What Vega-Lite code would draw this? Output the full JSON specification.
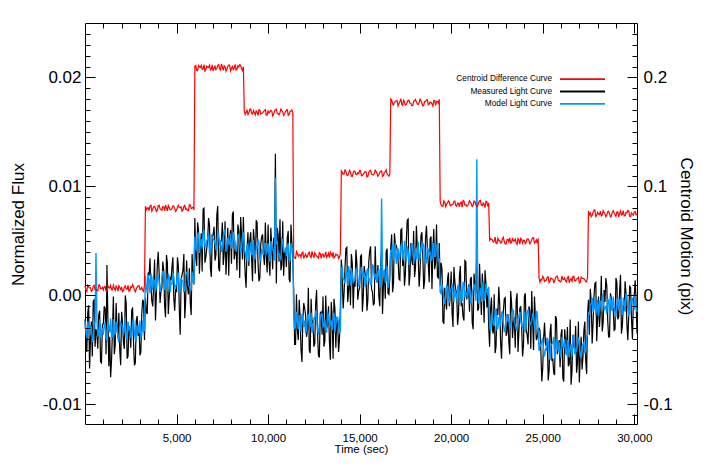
{
"$schema": "https://vega.github.io/schema/vega-lite/v6.json",
"width": 552, "height": 401,
"autosize": {"type": "none"},
"padding": {"left": 85, "top": 23, "right": 71, "bottom": 48},
"background": "white",
"data": {"values": [
{"t":0,"m":-0.0022,"b":-0.0023,"c":0.0087},
{"t":100,"m":-0.0052,"b":-0.0039,"c":0.0036},
{"t":200,"m":-0.0009,"b":-0.003,"c":0.0078},
{"t":300,"m":-0.0041,"b":-0.0027,"c":0.0069},
{"t":400,"m":-0.0056,"b":-0.0042,"c":0.0047},
{"t":500,"m":-0.0004,"b":-0.0024,"c":0.0092},
{"t":600,"m":-0.0031,"b":0.0039,"c":0.0057},
{"t":700,"m":-0.0049,"b":-0.0037,"c":0.0042},
{"t":800,"m":-0.0014,"b":-0.0022,"c":0.0096},
{"t":900,"m":-0.0062,"b":-0.0032,"c":0.0063},
{"t":1000,"m":-0.0026,"b":-0.0036,"c":0.005},
{"t":1100,"m":-0.0012,"b":-0.0025,"c":0.0082},
{"t":1200,"m":0.0028,"b":-0.0041,"c":0.0034},
{"t":1300,"m":-0.0065,"b":-0.0029,"c":0.0073},
{"t":1400,"m":-0.0075,"b":-0.0021,"c":0.0091},
{"t":1500,"m":-0.0032,"b":-0.0038,"c":0.0053},
{"t":1600,"m":-0.0054,"b":-0.0033,"c":0.0068},
{"t":1700,"m":-0.0007,"b":-0.0024,"c":0.0085},
{"t":1800,"m":-0.0039,"b":-0.0039,"c":0.004},
{"t":1900,"m":-0.0051,"b":-0.003,"c":0.0076},
{"t":2000,"m":-0.0015,"b":-0.0027,"c":0.0071},
{"t":2100,"m":-0.0043,"b":-0.0035,"c":0.0044},
{"t":2200,"m":0,"b":-0.002,"c":0.0089},
{"t":2300,"m":-0.0058,"b":-0.004,"c":0.0056},
{"t":2400,"m":-0.0028,"b":-0.0031,"c":0.0038},
{"t":2500,"m":-0.0048,"b":-0.0038,"c":0.0079},
{"t":2600,"m":-0.0011,"b":-0.0025,"c":0.0099},
{"t":2700,"m":-0.0064,"b":-0.0034,"c":0.0048},
{"t":2800,"m":-0.0023,"b":-0.0042,"c":0.0061},
{"t":2900,"m":-0.0037,"b":-0.0028,"c":0.0088},
{"t":3000,"m":-0.0055,"b":-0.0023,"c":0.0054},
{"t":3100,"m":-0.0017,"b":-0.0037,"c":0.0074},
{"t":3200,"m":-0.0006,"b":-0.0033,"c":0.0037},
{"t":3300,"m":-0.0002,"b":0.0018,"c":0.0819},
{"t":3400,"m":-0.0017,"b":0.0002,"c":0.0801},
{"t":3500,"m":0.0018,"b":0.0015,"c":0.0778},
{"t":3600,"m":0.001,"b":0.002,"c":0.0828},
{"t":3700,"m":-0.001,"b":0.0005,"c":0.0793},
{"t":3800,"m":0.0033,"b":0.0013,"c":0.0816},
{"t":3900,"m":0.0001,"b":0.0008,"c":0.077},
{"t":4000,"m":0.004,"b":0.0018,"c":0.0825},
{"t":4100,"m":-0.0007,"b":0.0003,"c":0.0794},
{"t":4200,"m":0.0007,"b":0.0016,"c":0.0781},
{"t":4300,"m":0.0023,"b":0.0022,"c":0.0812},
{"t":4400,"m":-0.002,"b":0.0009,"c":0.083},
{"t":4500,"m":0.003,"b":0.0004,"c":0.0776},
{"t":4600,"m":-0.0001,"b":0.0017,"c":0.0807},
{"t":4700,"m":0.0014,"b":0.0012,"c":0.0787},
{"t":4800,"m":0.0035,"b":0.0021,"c":0.0821},
{"t":4900,"m":-0.0014,"b":0.0006,"c":0.0799},
{"t":5000,"m":0.0003,"b":0.001,"c":0.0784},
{"t":5100,"m":0.0027,"b":0.002,"c":0.0826},
{"t":5200,"m":-0.0036,"b":0.0007,"c":0.0804},
{"t":5300,"m":0.0019,"b":0.0014,"c":0.0773},
{"t":5400,"m":0.0038,"b":0.0003,"c":0.0817},
{"t":5500,"m":-0.0004,"b":0.0018,"c":0.0791},
{"t":5600,"m":0.0008,"b":0.0022,"c":0.078},
{"t":5700,"m":0.0025,"b":0.0008,"c":0.0832},
{"t":5800,"m":-0.0018,"b":0.0005,"c":0.0797},
{"t":5900,"m":0.0016,"b":0.0013,"c":0.081},
{"t":6000,"m":0.0071,"b":0.0054,"c":0.2105},
{"t":6100,"m":0.0027,"b":0.0041,"c":0.2065},
{"t":6200,"m":0.006,"b":0.0058,"c":0.211},
{"t":6300,"m":0.0043,"b":0.0047,"c":0.2092},
{"t":6400,"m":0.0022,"b":0.0043,"c":0.2076},
{"t":6500,"m":0.008,"b":0.0059,"c":0.2119},
{"t":6600,"m":0.0035,"b":0.0045,"c":0.2072},
{"t":6700,"m":0.0051,"b":0.0052,"c":0.2095},
{"t":6800,"m":0.0065,"b":0.0038,"c":0.2113},
{"t":6900,"m":0.0017,"b":0.0056,"c":0.2079},
{"t":7000,"m":0.0056,"b":0.0052,"c":0.2061},
{"t":7100,"m":0.0032,"b":0.0048,"c":0.2103},
{"t":7200,"m":0.0074,"b":0.0042,"c":0.2085},
{"t":7300,"m":0.0025,"b":0.0057,"c":0.2117},
{"t":7400,"m":0.0049,"b":0.0051,"c":0.2069},
{"t":7500,"m":0.0067,"b":0.0044,"c":0.2098},
{"t":7600,"m":0.0038,"b":0.006,"c":0.2108},
{"t":7700,"m":0.0019,"b":0.004,"c":0.2058},
{"t":7800,"m":0.0062,"b":0.0053,"c":0.2101},
{"t":7900,"m":0.0053,"b":0.0046,"c":0.2114},
{"t":8000,"m":0.0029,"b":0.0043,"c":0.2082},
{"t":8100,"m":0.0077,"b":0.0058,"c":0.2073},
{"t":8200,"m":0.004,"b":0.0049,"c":0.212},
{"t":8300,"m":0.0023,"b":0.0044,"c":0.2077},
{"t":8400,"m":0.0059,"b":0.0056,"c":0.2096},
{"t":8500,"m":0.0072,"b":0.0039,"c":0.2111},
{"t":8600,"m":0.0033,"b":0.0054,"c":0.2064},
{"t":8700,"m":0.0039,"b":0.0043,"c":0.1694},
{"t":8800,"m":0.0007,"b":0.0033,"c":0.1678},
{"t":8900,"m":0.0058,"b":0.0047,"c":0.166},
{"t":9000,"m":0.005,"b":0.0042,"c":0.1708},
{"t":9100,"m":0.0034,"b":0.0037,"c":0.167},
{"t":9200,"m":0.0061,"b":0.0051,"c":0.1696},
{"t":9300,"m":0.002,"b":0.0034,"c":0.1657},
{"t":9400,"m":0.0067,"b":0.0044,"c":0.1683},
{"t":9500,"m":0.0013,"b":0.0049,"c":0.1705},
{"t":9600,"m":0.0047,"b":0.0032,"c":0.1665},
{"t":9700,"m":0.0056,"b":0.0039,"c":0.1675},
{"t":9800,"m":0.0028,"b":0.0046,"c":0.1699},
{"t":9900,"m":0.0036,"b":0.0038,"c":0.1652},
{"t":10000,"m":0.0065,"b":0.0048,"c":0.1692},
{"t":10100,"m":0.0018,"b":0.0031,"c":0.1687},
{"t":10200,"m":0.0044,"b":0.0045,"c":0.1692},
{"t":10300,"m":0.0053,"b":0.0042,"c":0.1662},
{"t":10400,"m":0.013,"b":0.0108,"c":0.1705},
{"t":10500,"m":0.0062,"b":0.005,"c":0.1673},
{"t":10600,"m":0.0031,"b":0.0038,"c":0.1658},
{"t":10700,"m":0.0023,"b":0.0033,"c":0.171},
{"t":10800,"m":0.0068,"b":0.0051,"c":0.1683},
{"t":10900,"m":0.004,"b":0.004,"c":0.1665},
{"t":11000,"m":0.0026,"b":0.0036,"c":0.17},
{"t":11100,"m":0.0059,"b":0.0047,"c":0.1652},
{"t":11200,"m":0.0012,"b":0.0031,"c":0.1688},
{"t":11300,"m":0.0049,"b":0.0044,"c":0.1702},
{"t":11400,"m":0.0004,"b":-0.0016,"c":0.0358},
{"t":11500,"m":-0.0045,"b":-0.0029,"c":0.0339},
{"t":11600,"m":-0.0032,"b":-0.0024,"c":0.0385},
{"t":11700,"m":-0.0004,"b":-0.0018,"c":0.0372},
{"t":11800,"m":-0.005,"b":-0.0033,"c":0.035},
{"t":11900,"m":-0.0021,"b":-0.0021,"c":0.0397},
{"t":12000,"m":-0.0012,"b":-0.0023,"c":0.0365},
{"t":12100,"m":-0.0038,"b":-0.0032,"c":0.0353},
{"t":12200,"m":0.0007,"b":-0.0017,"c":0.0389},
{"t":12300,"m":-0.0053,"b":-0.0028,"c":0.0361},
{"t":12400,"m":-0.0025,"b":-0.0034,"c":0.0404},
{"t":12500,"m":-0.0047,"b":-0.002,"c":0.0346},
{"t":12600,"m":-0.0007,"b":-0.0014,"c":0.0376},
{"t":12700,"m":-0.0034,"b":-0.0031,"c":0.0356},
{"t":12800,"m":-0.0057,"b":-0.0026,"c":0.0393},
{"t":12900,"m":-0.0015,"b":-0.0017,"c":0.034},
{"t":13000,"m":-0.0001,"b":-0.0029,"c":0.0381},
{"t":13100,"m":-0.0042,"b":-0.0022,"c":0.0367},
{"t":13200,"m":-0.003,"b":-0.0034,"c":0.0349},
{"t":13300,"m":-0.001,"b":-0.0019,"c":0.0387},
{"t":13400,"m":-0.0059,"b":-0.0025,"c":0.0398},
{"t":13500,"m":-0.0019,"b":-0.0032,"c":0.0359},
{"t":13600,"m":-0.0003,"b":-0.0016,"c":0.0344},
{"t":13700,"m":-0.0048,"b":-0.0027,"c":0.0379},
{"t":13800,"m":-0.0024,"b":-0.002,"c":0.0371},
{"t":13900,"m":-0.004,"b":-0.0035,"c":0.0351},
{"t":14000,"m":0.0033,"b":0.0025,"c":0.1144},
{"t":14100,"m":-0.0012,"b":0.0015,"c":0.1112},
{"t":14200,"m":0.0025,"b":0.0011,"c":0.1151},
{"t":14300,"m":0.0044,"b":0.0021,"c":0.1104},
{"t":14400,"m":0.0005,"b":0.0027,"c":0.1118},
{"t":14500,"m":-0.0009,"b":0.0009,"c":0.1134},
{"t":14600,"m":0.0029,"b":0.0019,"c":0.1091},
{"t":14700,"m":0.0013,"b":0.0013,"c":0.1141},
{"t":14800,"m":0.0042,"b":0.0024,"c":0.111},
{"t":14900,"m":-0.0004,"b":0.0017,"c":0.1125},
{"t":15000,"m":0.0007,"b":0.0012,"c":0.1146},
{"t":15100,"m":0.0037,"b":0.0026,"c":0.1097},
{"t":15200,"m":-0.0001,"b":0.0018,"c":0.1114},
{"t":15300,"m":0.002,"b":0.0008,"c":0.1138},
{"t":15400,"m":-0.0014,"b":0.0023,"c":0.1087},
{"t":15500,"m":0.0031,"b":0.0014,"c":0.113},
{"t":15600,"m":0.0045,"b":0.001,"c":0.1149},
{"t":15700,"m":0.0003,"b":0.0028,"c":0.1107},
{"t":15800,"m":-0.0007,"b":0.0016,"c":0.1119},
{"t":15900,"m":0.0016,"b":0.002,"c":0.1136},
{"t":16000,"m":0.0028,"b":0.0022,"c":0.1093},
{"t":16100,"m":-0.001,"b":0.0009,"c":0.1127},
{"t":16200,"m":0.004,"b":0.0089,"c":0.1144},
{"t":16300,"m":0.0009,"b":0.0018,"c":0.11},
{"t":16400,"m":-0.0003,"b":0.0012,"c":0.1133},
{"t":16500,"m":0.0043,"b":0.0027,"c":0.1116},
{"t":16600,"m":0.0001,"b":0.0011,"c":0.1095},
{"t":16700,"m":0.0044,"b":0.0041,"c":0.1803},
{"t":16800,"m":0.0003,"b":0.0047,"c":0.1758},
{"t":16900,"m":0.0057,"b":0.0035,"c":0.1774},
{"t":17000,"m":0.0046,"b":0.0029,"c":0.1788},
{"t":17100,"m":0.0033,"b":0.0043,"c":0.174},
{"t":17200,"m":0.0014,"b":0.0037,"c":0.1779},
{"t":17300,"m":0.0061,"b":0.0048,"c":0.1755},
{"t":17400,"m":0.0041,"b":0.0032,"c":0.1797},
{"t":17500,"m":0.002,"b":0.0042,"c":0.1748},
{"t":17600,"m":0.0069,"b":0.0045,"c":0.1772},
{"t":17700,"m":0.0009,"b":0.0028,"c":0.179},
{"t":17800,"m":0.0048,"b":0.0043,"c":0.1761},
{"t":17900,"m":0.0028,"b":0.0047,"c":0.1742},
{"t":18000,"m":0.0017,"b":0.0036,"c":0.1785},
{"t":18100,"m":0.0064,"b":0.0033,"c":0.1776},
{"t":18200,"m":0.0036,"b":0.0049,"c":0.1752},
{"t":18300,"m":0.0022,"b":0.0035,"c":0.18},
{"t":18400,"m":0.0058,"b":0.0041,"c":0.1763},
{"t":18500,"m":0.0006,"b":0.0046,"c":0.1746},
{"t":18600,"m":0.0052,"b":0.003,"c":0.1782},
{"t":18700,"m":0.0043,"b":0.0044,"c":0.1795},
{"t":18800,"m":0.0012,"b":0.0038,"c":0.1756},
{"t":18900,"m":0.0054,"b":0.0032,"c":0.177},
{"t":19000,"m":0.0039,"b":0.0048,"c":0.1738},
{"t":19100,"m":0.0024,"b":0.0036,"c":0.1789},
{"t":19200,"m":0.0065,"b":0.0044,"c":0.1781},
{"t":19300,"m":0.0016,"b":0.0031,"c":0.1765},
{"t":19400,"m":0.0009,"b":0.0003,"c":0.0862},
{"t":19500,"m":0.0024,"b":0.001,"c":0.0821},
{"t":19600,"m":-0.0026,"b":-0.0003,"c":0.0868},
{"t":19700,"m":-0.0006,"b":0,"c":0.0814},
{"t":19800,"m":0.0015,"b":0.0008,"c":0.0848},
{"t":19900,"m":-0.001,"b":-0.0007,"c":0.0857},
{"t":20000,"m":0.0022,"b":0.0006,"c":0.0829},
{"t":20100,"m":-0.0029,"b":0.0004,"c":0.0837},
{"t":20200,"m":0.0013,"b":0.0006,"c":0.0866},
{"t":20300,"m":0.0004,"b":-0.0004,"c":0.0819},
{"t":20400,"m":-0.0018,"b":0.001,"c":0.0845},
{"t":20500,"m":0.0027,"b":0,"c":0.0854},
{"t":20600,"m":-0.0008,"b":-0.0005,"c":0.081},
{"t":20700,"m":-0.0023,"b":0.0012,"c":0.0863},
{"t":20800,"m":0.0031,"b":0.0003,"c":0.0832},
{"t":20900,"m":-0.0002,"b":-0.0003,"c":0.0824},
{"t":21000,"m":-0.0015,"b":0.0009,"c":0.0869},
{"t":21100,"m":0.0017,"b":-0.0007,"c":0.0841},
{"t":21200,"m":-0.0031,"b":0.0005,"c":0.0827},
{"t":21300,"m":0.0008,"b":0.0009,"c":0.086},
{"t":21400,"m":0.0044,"b":0.0125,"c":0.0813},
{"t":21500,"m":-0.0012,"b":-0.0008,"c":0.085},
{"t":21600,"m":0.0003,"b":0.0007,"c":0.0872},
{"t":21700,"m":0.002,"b":0.0003,"c":0.0823},
{"t":21800,"m":-0.0025,"b":-0.0005,"c":0.0836},
{"t":21900,"m":0.0011,"b":0.0011,"c":0.0864},
{"t":22000,"m":0.0006,"b":0,"c":0.0818},
{"t":22100,"m":-0.0047,"b":-0.0029,"c":0.0507},
{"t":22200,"m":-0.0002,"b":-0.0017,"c":0.0516},
{"t":22300,"m":-0.0035,"b":-0.0026,"c":0.049},
{"t":22400,"m":-0.0053,"b":-0.0012,"c":0.0535},
{"t":22500,"m":-0.0012,"b":-0.0031,"c":0.0475},
{"t":22600,"m":0.0008,"b":-0.0021,"c":0.0503},
{"t":22700,"m":-0.0043,"b":-0.0028,"c":0.0481},
{"t":22800,"m":-0.003,"b":-0.0015,"c":0.0521},
{"t":22900,"m":-0.0003,"b":-0.0033,"c":0.0494},
{"t":23000,"m":-0.0037,"b":-0.0019,"c":0.0471},
{"t":23100,"m":-0.0017,"b":-0.0024,"c":0.0513},
{"t":23200,"m":-0.0054,"b":-0.003,"c":0.0527},
{"t":23300,"m":-0.0007,"b":-0.0017,"c":0.0486},
{"t":23400,"m":-0.0025,"b":-0.0014,"c":0.0498},
{"t":23500,"m":-0.0048,"b":-0.0027,"c":0.0518},
{"t":23600,"m":0.0002,"b":-0.0032,"c":0.0469},
{"t":23700,"m":-0.0033,"b":-0.002,"c":0.0509},
{"t":23800,"m":-0.001,"b":-0.0023,"c":0.0525},
{"t":23900,"m":-0.0056,"b":-0.0029,"c":0.048},
{"t":24000,"m":-0.0001,"b":-0.0015,"c":0.0504},
{"t":24100,"m":-0.0032,"b":-0.0026,"c":0.0488},
{"t":24200,"m":-0.0045,"b":-0.0013,"c":0.0519},
{"t":24300,"m":-0.0014,"b":-0.0028,"c":0.0474},
{"t":24400,"m":0.0004,"b":-0.0024,"c":0.0511},
{"t":24500,"m":-0.005,"b":-0.0018,"c":0.053},
{"t":24600,"m":-0.0019,"b":-0.0033,"c":0.0491},
{"t":24700,"m":-0.0039,"b":-0.0016,"c":0.0477},
{"t":24800,"m":-0.003,"b":-0.0051,"c":0.0162},
{"t":24900,"m":-0.0052,"b":-0.0046,"c":0.0146},
{"t":25000,"m":-0.0067,"b":-0.0039,"c":0.0175},
{"t":25100,"m":-0.0025,"b":-0.0056,"c":0.0129},
{"t":25200,"m":-0.0047,"b":-0.005,"c":0.014},
{"t":25300,"m":-0.0078,"b":-0.0042,"c":0.017},
{"t":25400,"m":-0.0034,"b":-0.0059,"c":0.0132},
{"t":25500,"m":-0.006,"b":-0.0045,"c":0.0153},
{"t":25600,"m":-0.0071,"b":-0.0038,"c":0.0119},
{"t":25700,"m":-0.0019,"b":-0.0052,"c":0.0164},
{"t":25800,"m":-0.0054,"b":-0.0048,"c":0.0178},
{"t":25900,"m":-0.0041,"b":-0.0043,"c":0.0136},
{"t":26000,"m":-0.0036,"b":-0.0057,"c":0.0126},
{"t":26100,"m":-0.0076,"b":-0.0046,"c":0.0149},
{"t":26200,"m":-0.0031,"b":-0.004,"c":0.0161},
{"t":26300,"m":-0.0049,"b":-0.0055,"c":0.0123},
{"t":26400,"m":-0.0065,"b":-0.0044,"c":0.0173},
{"t":26500,"m":-0.0022,"b":-0.0049,"c":0.0142},
{"t":26600,"m":-0.0069,"b":-0.0056,"c":0.013},
{"t":26700,"m":-0.0046,"b":-0.0037,"c":0.0176},
{"t":26800,"m":-0.0028,"b":-0.0052,"c":0.0134},
{"t":26900,"m":-0.0062,"b":-0.0047,"c":0.0155},
{"t":27000,"m":-0.008,"b":-0.0042,"c":0.0114},
{"t":27100,"m":-0.0038,"b":-0.0058,"c":0.0168},
{"t":27200,"m":-0.0056,"b":-0.0045,"c":0.0157},
{"t":27300,"m":-0.0024,"b":-0.0053,"c":0.0144},
{"t":27400,"m":-0.0072,"b":-0.0039,"c":0.0125},
{"t":27500,"m":-0.0004,"b":-0.0016,"c":0.0775},
{"t":27600,"m":0.0006,"b":-0.0008,"c":0.0755},
{"t":27700,"m":-0.0044,"b":-0.0002,"c":0.0734},
{"t":27800,"m":-0.0001,"b":-0.0012,"c":0.0783},
{"t":27900,"m":0.0012,"b":-0.0018,"c":0.0723},
{"t":28000,"m":-0.002,"b":-0.0004,"c":0.0762},
{"t":28100,"m":-0.0029,"b":-0.0007,"c":0.0742},
{"t":28200,"m":0.0018,"b":-0.0015,"c":0.0731},
{"t":28300,"m":-0.0025,"b":0.0001,"c":0.0778},
{"t":28400,"m":-0.0006,"b":-0.0011,"c":0.075},
{"t":28500,"m":0.0009,"b":-0.0017,"c":0.0736},
{"t":28600,"m":-0.0038,"b":-0.0005,"c":0.0772},
{"t":28700,"m":0.0002,"b":-0.0001,"c":0.072},
{"t":28800,"m":-0.0014,"b":-0.0014,"c":0.0766},
{"t":28900,"m":-0.0032,"b":-0.0009,"c":0.0757},
{"t":29000,"m":0.0016,"b":-0.002,"c":0.0726},
{"t":29100,"m":-0.0022,"b":-0.0003,"c":0.0768},
{"t":29200,"m":0.0004,"b":-0.0005,"c":0.0753},
{"t":29300,"m":-0.0035,"b":-0.0011,"c":0.0738},
{"t":29400,"m":-0.0009,"b":-0.0002,"c":0.0779},
{"t":29500,"m":0.0013,"b":-0.0015,"c":0.073},
{"t":29600,"m":-0.0027,"b":0,"c":0.0759},
{"t":29700,"m":-0.0017,"b":-0.0018,"c":0.0774},
{"t":29800,"m":0.0007,"b":-0.0006,"c":0.0724},
{"t":29900,"m":-0.004,"b":-0.0003,"c":0.0744},
{"t":30000,"m":0,"b":-0.0013,"c":0.0765},
{"t":30100,"m":-0.0005,"b":-0.001,"c":0.074},
{"t":50,"m":-0.004,"b":-0.0034,"c":0.0049},
{"t":150,"m":-0.0016,"b":-0.0024,"c":0.0091},
{"t":250,"m":-0.0067,"b":-0.0037,"c":0.0069},
{"t":350,"m":-0.0024,"b":-0.003,"c":0.0038},
{"t":450,"m":-0.0005,"b":-0.0041,"c":0.0082},
{"t":550,"m":-0.0047,"b":-0.0026,"c":0.0056},
{"t":650,"m":-0.0035,"b":-0.0022,"c":0.0045},
{"t":750,"m":-0.0018,"b":-0.0036,"c":0.0097},
{"t":850,"m":-0.0061,"b":-0.0039,"c":0.0062},
{"t":950,"m":-0.0027,"b":-0.0031,"c":0.0075},
{"t":1050,"m":-0.001,"b":-0.0027,"c":0.008},
{"t":1150,"m":-0.0054,"b":-0.004,"c":0.004},
{"t":1250,"m":-0.0021,"b":-0.0023,"c":0.0085},
{"t":1350,"m":-0.0038,"b":-0.0034,"c":0.0067},
{"t":1450,"m":-0.0059,"b":-0.0038,"c":0.0051},
{"t":1550,"m":-0.0001,"b":-0.0022,"c":0.0094},
{"t":1650,"m":-0.0046,"b":-0.0036,"c":0.0047},
{"t":1750,"m":-0.003,"b":-0.0029,"c":0.007},
{"t":1850,"m":-0.0016,"b":-0.0043,"c":0.0088},
{"t":1950,"m":-0.0064,"b":-0.0025,"c":0.0054},
{"t":2050,"m":-0.0025,"b":-0.0029,"c":0.0036},
{"t":2150,"m":-0.0049,"b":-0.0033,"c":0.0078},
{"t":2250,"m":-0.0007,"b":-0.0039,"c":0.006},
{"t":2350,"m":-0.0056,"b":-0.0024,"c":0.0092},
{"t":2450,"m":-0.0032,"b":-0.003,"c":0.0044},
{"t":2550,"m":-0.0014,"b":-0.0037,"c":0.0073},
{"t":2650,"m":-0.0043,"b":-0.0021,"c":0.0083},
{"t":2750,"m":-0.0062,"b":-0.0041,"c":0.0033},
{"t":2850,"m":-0.0019,"b":-0.0028,"c":0.0076},
{"t":2950,"m":-0.0028,"b":-0.0035,"c":0.0089},
{"t":3050,"m":-0.0052,"b":-0.0038,"c":0.0057},
{"t":3150,"m":-0.0004,"b":-0.0023,"c":0.0048},
{"t":3250,"m":-0.0041,"b":-0.0032,"c":0.0095},
{"t":3350,"m":-0.0015,"b":0.0007,"c":0.0787},
{"t":3450,"m":0.0021,"b":0.0019,"c":0.0806},
{"t":3550,"m":0.0034,"b":0.0002,"c":0.0821},
{"t":3650,"m":-0.0005,"b":0.0017,"c":0.0774},
{"t":3750,"m":0.0009,"b":0.0014,"c":0.0814},
{"t":3850,"m":-0.0023,"b":0.0004,"c":0.0798},
{"t":3950,"m":0.0028,"b":0.0018,"c":0.078},
{"t":4050,"m":0.002,"b":0.0013,"c":0.0828},
{"t":4150,"m":0.0004,"b":0.0008,"c":0.079},
{"t":4250,"m":0.0031,"b":0.0022,"c":0.0816},
{"t":4350,"m":-0.001,"b":0.0005,"c":0.0777},
{"t":4450,"m":0.0037,"b":0.0015,"c":0.0803},
{"t":4550,"m":-0.0017,"b":0.002,"c":0.0825},
{"t":4650,"m":0.0017,"b":0.0003,"c":0.0785},
{"t":4750,"m":0.0026,"b":0.001,"c":0.0795},
{"t":4850,"m":-0.0002,"b":0.0017,"c":0.0819},
{"t":4950,"m":0.0006,"b":0.0009,"c":0.0772},
{"t":5050,"m":0.0035,"b":0.0019,"c":0.0812},
{"t":5150,"m":-0.0012,"b":0.0002,"c":0.0807},
{"t":5250,"m":0.0014,"b":0.0016,"c":0.0812},
{"t":5350,"m":0.0023,"b":0.0013,"c":0.0782},
{"t":5450,"m":-0.0021,"b":0.0006,"c":0.0825},
{"t":5550,"m":0.0032,"b":0.0021,"c":0.0793},
{"t":5650,"m":0.0001,"b":0.0009,"c":0.0778},
{"t":5750,"m":-0.0007,"b":0.0004,"c":0.083},
{"t":5850,"m":0.0038,"b":0.0022,"c":0.0803},
{"t":5950,"m":0.001,"b":0.0011,"c":0.0785},
{"t":6050,"m":0.0034,"b":0.0044,"c":0.211},
{"t":6150,"m":0.0067,"b":0.0055,"c":0.2062},
{"t":6250,"m":0.002,"b":0.0039,"c":0.2098},
{"t":6350,"m":0.0057,"b":0.0052,"c":0.2112},
{"t":6450,"m":0.0079,"b":0.0058,"c":0.2078},
{"t":6550,"m":0.003,"b":0.0045,"c":0.2059},
{"t":6650,"m":0.0043,"b":0.005,"c":0.2105},
{"t":6750,"m":0.0071,"b":0.0056,"c":0.2092},
{"t":6850,"m":0.0025,"b":0.0041,"c":0.207},
{"t":6950,"m":0.0054,"b":0.0053,"c":0.2117},
{"t":7050,"m":0.0063,"b":0.0051,"c":0.2085},
{"t":7150,"m":0.0037,"b":0.0042,"c":0.2073},
{"t":7250,"m":0.0082,"b":0.0057,"c":0.2109},
{"t":7350,"m":0.0022,"b":0.0046,"c":0.2081},
{"t":7450,"m":0.005,"b":0.004,"c":0.2124},
{"t":7550,"m":0.0028,"b":0.0054,"c":0.2066},
{"t":7650,"m":0.0068,"b":0.006,"c":0.2096},
{"t":7750,"m":0.0041,"b":0.0043,"c":0.2076},
{"t":7850,"m":0.0018,"b":0.0048,"c":0.2113},
{"t":7950,"m":0.006,"b":0.0057,"c":0.206},
{"t":8050,"m":0.0074,"b":0.0045,"c":0.2101},
{"t":8150,"m":0.0033,"b":0.0052,"c":0.2087},
{"t":8250,"m":0.0045,"b":0.004,"c":0.2069},
{"t":8350,"m":0.0065,"b":0.0055,"c":0.2107},
{"t":8450,"m":0.0016,"b":0.0049,"c":0.2118},
{"t":8550,"m":0.0056,"b":0.0042,"c":0.2079},
{"t":8650,"m":0.0072,"b":0.0058,"c":0.2099},
{"t":8750,"m":0.0019,"b":0.0039,"c":0.1661},
{"t":8850,"m":0.0043,"b":0.0046,"c":0.1704},
{"t":8950,"m":0.0027,"b":0.0031,"c":0.1672},
{"t":9050,"m":0.0058,"b":0.0049,"c":0.1711},
{"t":9150,"m":0.0013,"b":0.0039,"c":0.1664},
{"t":9250,"m":0.005,"b":0.0035,"c":0.1678},
{"t":9350,"m":0.0069,"b":0.0045,"c":0.1694},
{"t":9450,"m":0.003,"b":0.0051,"c":0.1651},
{"t":9550,"m":0.0016,"b":0.0033,"c":0.1701},
{"t":9650,"m":0.0054,"b":0.0043,"c":0.167},
{"t":9750,"m":0.0038,"b":0.0037,"c":0.1685},
{"t":9850,"m":0.0067,"b":0.0048,"c":0.1706},
{"t":9950,"m":0.0021,"b":0.0041,"c":0.1657},
{"t":10050,"m":0.0032,"b":0.0036,"c":0.1674},
{"t":10150,"m":0.0062,"b":0.005,"c":0.1698},
{"t":10250,"m":0.0024,"b":0.0042,"c":0.1647},
{"t":10350,"m":0.0045,"b":0.0032,"c":0.169},
{"t":10450,"m":0.0011,"b":0.0047,"c":0.1709},
{"t":10550,"m":0.0056,"b":0.0038,"c":0.1667},
{"t":10650,"m":0.007,"b":0.0034,"c":0.1679},
{"t":10750,"m":0.0028,"b":0.0052,"c":0.1696},
{"t":10850,"m":0.0018,"b":0.004,"c":0.1653},
{"t":10950,"m":0.0041,"b":0.0044,"c":0.1687},
{"t":11050,"m":0.0053,"b":0.0046,"c":0.1704},
{"t":11150,"m":0.0015,"b":0.0033,"c":0.166},
{"t":11250,"m":0.0065,"b":0.0048,"c":0.1693},
{"t":11350,"m":0.0034,"b":0.0042,"c":0.1676},
{"t":11450,"m":-0.0045,"b":-0.003,"c":0.0345},
{"t":11550,"m":0.0001,"b":-0.0015,"c":0.0403},
{"t":11650,"m":-0.0041,"b":-0.0031,"c":0.0358},
{"t":11750,"m":-0.002,"b":-0.0023,"c":0.0374},
{"t":11850,"m":-0.0061,"b":-0.0017,"c":0.0388},
{"t":11950,"m":-0.0007,"b":-0.0029,"c":0.034},
{"t":12050,"m":-0.0018,"b":-0.0035,"c":0.0379},
{"t":12150,"m":-0.0031,"b":-0.0021,"c":0.0355},
{"t":12250,"m":-0.005,"b":-0.0027,"c":0.0397},
{"t":12350,"m":-0.0003,"b":-0.0016,"c":0.0348},
{"t":12450,"m":-0.0023,"b":-0.0032,"c":0.0372},
{"t":12550,"m":-0.0044,"b":-0.0022,"c":0.039},
{"t":12650,"m":0.0005,"b":-0.0019,"c":0.0361},
{"t":12750,"m":-0.0055,"b":-0.0036,"c":0.0342},
{"t":12850,"m":-0.0016,"b":-0.0021,"c":0.0385},
{"t":12950,"m":-0.0036,"b":-0.0017,"c":0.0376},
{"t":13050,"m":-0.0047,"b":-0.0028,"c":0.0352},
{"t":13150,"m":0,"b":-0.0031,"c":0.04},
{"t":13250,"m":-0.0028,"b":-0.0015,"c":0.0363},
{"t":13350,"m":-0.0042,"b":-0.0029,"c":0.0346},
{"t":13450,"m":-0.0006,"b":-0.0023,"c":0.0382},
{"t":13550,"m":-0.0058,"b":-0.0018,"c":0.0395},
{"t":13650,"m":-0.0012,"b":-0.0034,"c":0.0356},
{"t":13750,"m":-0.0021,"b":-0.002,"c":0.037},
{"t":13850,"m":-0.0052,"b":-0.0026,"c":0.0338},
{"t":13950,"m":-0.001,"b":-0.0032,"c":0.0389},
{"t":14050,"m":0.0017,"b":0.0026,"c":0.1131},
{"t":14150,"m":0.0002,"b":0.0014,"c":0.1115},
{"t":14250,"m":0.0043,"b":0.0022,"c":0.1142},
{"t":14350,"m":-0.0006,"b":0.0009,"c":0.1101},
{"t":14450,"m":0.0023,"b":0.0018,"c":0.1148},
{"t":14550,"m":0.0038,"b":0.0025,"c":0.1094},
{"t":14650,"m":-0.0012,"b":0.0012,"c":0.1128},
{"t":14750,"m":0.0008,"b":0.0015,"c":0.1137},
{"t":14850,"m":0.0029,"b":0.0023,"c":0.1109},
{"t":14950,"m":0.0004,"b":0.0008,"c":0.1117},
{"t":15050,"m":0.0036,"b":0.0021,"c":0.1146},
{"t":15150,"m":-0.0015,"b":0.0019,"c":0.1099},
{"t":15250,"m":0.0027,"b":0.0021,"c":0.1125},
{"t":15350,"m":0.0018,"b":0.0011,"c":0.1134},
{"t":15450,"m":-0.0004,"b":0.0025,"c":0.109},
{"t":15550,"m":0.0041,"b":0.0015,"c":0.1143},
{"t":15650,"m":0.0006,"b":0.001,"c":0.1112},
{"t":15750,"m":-0.0009,"b":0.0027,"c":0.1104},
{"t":15850,"m":0.0045,"b":0.0018,"c":0.1149},
{"t":15950,"m":0.0012,"b":0.0012,"c":0.1121},
{"t":16050,"m":-0.0001,"b":0.0024,"c":0.1107},
{"t":16150,"m":0.0031,"b":0.0008,"c":0.114},
{"t":16250,"m":-0.0017,"b":0.002,"c":0.1093},
{"t":16350,"m":0.0022,"b":0.0024,"c":0.113},
{"t":16450,"m":0.004,"b":0.0013,"c":0.1152},
{"t":16550,"m":0.0002,"b":0.0007,"c":0.1103},
{"t":16650,"m":0.0017,"b":0.0022,"c":0.1116},
{"t":16750,"m":0.0056,"b":0.004,"c":0.1794},
{"t":16850,"m":0.0011,"b":0.0032,"c":0.1748},
{"t":16950,"m":0.0047,"b":0.0048,"c":0.1777},
{"t":17050,"m":0.0042,"b":0.0037,"c":0.1786},
{"t":17150,"m":0.0015,"b":0.0033,"c":0.176},
{"t":17250,"m":0.006,"b":0.0045,"c":0.1805},
{"t":17350,"m":0.0027,"b":0.0036,"c":0.1745},
{"t":17450,"m":0.0009,"b":0.005,"c":0.1773},
{"t":17550,"m":0.005,"b":0.0031,"c":0.1751},
{"t":17650,"m":0.007,"b":0.0041,"c":0.1791},
{"t":17750,"m":0.0019,"b":0.0034,"c":0.1764},
{"t":17850,"m":0.0032,"b":0.0047,"c":0.1741},
{"t":17950,"m":0.0059,"b":0.0029,"c":0.1783},
{"t":18050,"m":0.0025,"b":0.0043,"c":0.1797},
{"t":18150,"m":0.0045,"b":0.0038,"c":0.1756},
{"t":18250,"m":0.0008,"b":0.0032,"c":0.1768},
{"t":18350,"m":0.0055,"b":0.0045,"c":0.1788},
{"t":18450,"m":0.0037,"b":0.0048,"c":0.1739},
{"t":18550,"m":0.0014,"b":0.0035,"c":0.1779},
{"t":18650,"m":0.0064,"b":0.003,"c":0.1795},
{"t":18750,"m":0.0029,"b":0.0042,"c":0.175},
{"t":18850,"m":0.0052,"b":0.0039,"c":0.1774},
{"t":18950,"m":0.0006,"b":0.0033,"c":0.1758},
{"t":19050,"m":0.0061,"b":0.0047,"c":0.1789},
{"t":19150,"m":0.003,"b":0.0036,"c":0.1744},
{"t":19250,"m":0.0017,"b":0.0049,"c":0.1781},
{"t":19350,"m":0.0048,"b":0.0034,"c":0.18},
{"t":19450,"m":0.003,"b":0.0001,"c":0.0831},
{"t":19550,"m":-0.0024,"b":0.0007,"c":0.0817},
{"t":19650,"m":0.0007,"b":-0.0008,"c":0.0855},
{"t":19750,"m":-0.0013,"b":0.0009,"c":0.0839},
{"t":19850,"m":0.0021,"b":-0.0001,"c":0.0868},
{"t":19950,"m":-0.0001,"b":0.0004,"c":0.0822},
{"t":20050,"m":-0.0016,"b":0.0011,"c":0.0833},
{"t":20150,"m":0.0026,"b":-0.0006,"c":0.0863},
{"t":20250,"m":0.0004,"b":0,"c":0.0825},
{"t":20350,"m":-0.0027,"b":0.0008,"c":0.0846},
{"t":20450,"m":0.0017,"b":-0.0009,"c":0.0812},
{"t":20550,"m":-0.0009,"b":0.0005,"c":0.0857},
{"t":20650,"m":-0.002,"b":0.0012,"c":0.0871},
{"t":20750,"m":0.0032,"b":-0.0002,"c":0.0829},
{"t":20850,"m":-0.0003,"b":0.0002,"c":0.0819},
{"t":20950,"m":0.001,"b":0.0007,"c":0.0842},
{"t":21050,"m":0.0015,"b":-0.0007,"c":0.0854},
{"t":21150,"m":-0.0025,"b":0.0004,"c":0.0816},
{"t":21250,"m":0.002,"b":0.001,"c":0.0866},
{"t":21350,"m":0.0002,"b":-0.0005,"c":0.0835},
{"t":21450,"m":-0.0014,"b":0.0006,"c":0.0823},
{"t":21550,"m":0.0029,"b":0.0001,"c":0.0869},
{"t":21650,"m":-0.0018,"b":-0.0006,"c":0.0827},
{"t":21750,"m":0.0005,"b":0.0013,"c":0.0848},
{"t":21850,"m":0.0023,"b":-0.0002,"c":0.0807},
{"t":21950,"m":-0.0011,"b":0.0003,"c":0.0861},
{"t":22050,"m":-0.0029,"b":0.0008,"c":0.085},
{"t":22150,"m":-0.0013,"b":-0.0033,"c":0.0521},
{"t":22250,"m":-0.0031,"b":-0.002,"c":0.051},
{"t":22350,"m":0.0001,"b":-0.0028,"c":0.0497},
{"t":22450,"m":-0.0047,"b":-0.0014,"c":0.0478},
{"t":22550,"m":-0.0018,"b":-0.003,"c":0.0525},
{"t":22650,"m":-0.0008,"b":-0.0022,"c":0.0505},
{"t":22750,"m":-0.0058,"b":-0.0016,"c":0.0484},
{"t":22850,"m":-0.0015,"b":-0.0026,"c":0.0533},
{"t":22950,"m":-0.0002,"b":-0.0032,"c":0.0473},
{"t":23050,"m":-0.0034,"b":-0.0018,"c":0.0512},
{"t":23150,"m":-0.0043,"b":-0.0021,"c":0.0492},
{"t":23250,"m":0.0004,"b":-0.0029,"c":0.0481},
{"t":23350,"m":-0.0039,"b":-0.0013,"c":0.0528},
{"t":23450,"m":-0.002,"b":-0.0025,"c":0.05},
{"t":23550,"m":-0.0005,"b":-0.0031,"c":0.0486},
{"t":23650,"m":-0.0052,"b":-0.0019,"c":0.0522},
{"t":23750,"m":-0.0012,"b":-0.0015,"c":0.047},
{"t":23850,"m":-0.0028,"b":-0.0028,"c":0.0516},
{"t":23950,"m":-0.0046,"b":-0.0023,"c":0.0507},
{"t":24050,"m":0.0002,"b":-0.0034,"c":0.0476},
{"t":24150,"m":-0.0036,"b":-0.0017,"c":0.0518},
{"t":24250,"m":-0.001,"b":-0.0019,"c":0.0503},
{"t":24350,"m":-0.0049,"b":-0.0025,"c":0.0488},
{"t":24450,"m":-0.0023,"b":-0.0016,"c":0.0529},
{"t":24550,"m":-0.0001,"b":-0.0029,"c":0.048},
{"t":24650,"m":-0.0041,"b":-0.0014,"c":0.0509},
{"t":24750,"m":-0.0031,"b":-0.0032,"c":0.0524},
{"t":24850,"m":-0.0032,"b":-0.0045,"c":0.0121},
{"t":24950,"m":-0.0079,"b":-0.0042,"c":0.0141},
{"t":25050,"m":-0.0039,"b":-0.0052,"c":0.0162},
{"t":25150,"m":-0.0044,"b":-0.0049,"c":0.0137},
{"t":25250,"m":-0.0039,"b":-0.0039,"c":0.0169},
{"t":25350,"m":-0.0069,"b":-0.0055,"c":0.0118},
{"t":25450,"m":-0.0026,"b":-0.0046,"c":0.016},
{"t":25550,"m":-0.0058,"b":-0.0043,"c":0.0151},
{"t":25650,"m":-0.0073,"b":-0.0058,"c":0.0129},
{"t":25750,"m":-0.0021,"b":-0.004,"c":0.0174},
{"t":25850,"m":-0.0048,"b":-0.0051,"c":0.0139},
{"t":25950,"m":-0.0066,"b":-0.0053,"c":0.0124},
{"t":26050,"m":-0.0031,"b":-0.0038,"c":0.0178},
{"t":26150,"m":-0.0079,"b":-0.0048,"c":0.0145},
{"t":26250,"m":-0.0043,"b":-0.0052,"c":0.0132},
{"t":26350,"m":-0.0029,"b":-0.0041,"c":0.0164},
{"t":26450,"m":-0.0063,"b":-0.0057,"c":0.0116},
{"t":26550,"m":-0.0082,"b":-0.0045,"c":0.0155},
{"t":26650,"m":-0.0036,"b":-0.0037,"c":0.0173},
{"t":26750,"m":-0.0049,"b":-0.0054,"c":0.0135},
{"t":26850,"m":-0.0071,"b":-0.0049,"c":0.015},
{"t":26950,"m":-0.0024,"b":-0.004,"c":0.0167},
{"t":27050,"m":-0.0056,"b":-0.0055,"c":0.0122},
{"t":27150,"m":-0.0068,"b":-0.0046,"c":0.0158},
{"t":27250,"m":-0.0032,"b":-0.0043,"c":0.0153},
{"t":27350,"m":-0.006,"b":-0.0051,"c":0.0126},
{"t":27450,"m":-0.0017,"b":-0.0036,"c":0.0171},
{"t":27550,"m":-0.0036,"b":-0.0017,"c":0.0741},
{"t":27650,"m":-0.0006,"b":-0.0008,"c":0.0723},
{"t":27750,"m":-0.0026,"b":-0.0015,"c":0.0764},
{"t":27850,"m":0.0011,"b":-0.0002,"c":0.0784},
{"t":27950,"m":-0.0042,"b":-0.0011,"c":0.0733},
{"t":28050,"m":-0.0001,"b":-0.0019,"c":0.0746},
{"t":28150,"m":-0.0015,"b":-0.0005,"c":0.0773},
{"t":28250,"m":-0.0033,"b":0,"c":0.0739},
{"t":28350,"m":0.0005,"b":-0.0014,"c":0.0759},
{"t":28450,"m":0.0016,"b":-0.001,"c":0.0722},
{"t":28550,"m":-0.0023,"b":-0.0003,"c":0.0769},
{"t":28650,"m":-0.0038,"b":-0.0019,"c":0.0751},
{"t":28750,"m":-0.0003,"b":-0.0006,"c":0.0728},
{"t":28850,"m":-0.0011,"b":-0.0001,"c":0.0778},
{"t":28950,"m":-0.0031,"b":-0.0016,"c":0.0743},
{"t":29050,"m":0.0012,"b":-0.0008,"c":0.0766},
{"t":29150,"m":-0.002,"b":-0.0013,"c":0.072},
{"t":29250,"m":0.0019,"b":-0.0003,"c":0.0775},
{"t":29350,"m":-0.0028,"b":-0.0018,"c":0.0744},
{"t":29450,"m":-0.0014,"b":-0.0005,"c":0.0731},
{"t":29550,"m":0.0002,"b":0.0001,"c":0.0762},
{"t":29650,"m":-0.0041,"b":-0.0012,"c":0.078},
{"t":29750,"m":0.0009,"b":-0.0017,"c":0.0726},
{"t":29850,"m":-0.0022,"b":-0.0004,"c":0.0757},
{"t":29950,"m":-0.0007,"b":-0.0009,"c":0.0737},
{"t":30050,"m":0.0014,"b":0,"c":0.0771},
{"t":30150,"m":-0.0035,"b":-0.0015,"c":0.0749}
]},
"layer": [
{
 "mark": {"type": "line", "strokeWidth": 1.2},
 "encoding": {
  "x": {"field": "t", "type": "quantitative", "scale": {"domain": [0, 30150], "nice": false, "zero": false},
   "axis": {"orient": "bottom", "values": [5000,10000,15000,20000,25000,30000], "zindex": 1,
    "offset": -10, "ticks": true, "tickSize": 10, "domain": true, "domainOpacity": 0, "labelPadding": 8, "labelFontSize": 11.5,
    "labelExpr": "format(datum.value, ',')",
    "title": "Time (sec)", "titleFontSize": 11.5, "titlePadding": 0}},
  "y": {"field": "m", "type": "quantitative", "scale": {"domain": [-0.0118, 0.025], "nice": false, "zero": false},
   "axis": {"orient": "left", "values": [-0.01, 0, 0.01, 0.02], "zindex": 1,
    "offset": -10, "ticks": true, "tickSize": 10, "domain": true, "domainOpacity": 0, "labelPadding": 4, "labelFontSize": 17,
    "labelExpr": "replace(format(datum.value,'.2f'),'\u2212','-')",
    "title": "Normalized Flux", "titleFontSize": 17, "titleAngle": -90, "titleX": -77, "titleY": 201, "titleAlign": "center", "titleBaseline": "middle"}},
  "color": {"datum": "Measured Light Curve", "type": "nominal",
   "scale": {"domain": ["Centroid Difference Curve", "Measured Light Curve", "Model Light Curve"], "range": ["#ff0000", "#000000", "#0099ff"]},
   "legend": {"orient": "none", "legendX": 492, "legendY": 50.6, "title": null, "direction": "vertical", "symbolType": "M-5,0H5", "symbolSize": 81, "symbolStrokeWidth": 1.8, "labelFontSize": 8.3, "labelAlign": "right", "labelOffset": -35.9, "rowPadding": 2.4, "padding": 0}}
 }
},
{
 "mark": {"type": "line", "strokeWidth": 1.4},
 "encoding": {
  "x": {"field": "t", "type": "quantitative",
   "axis": {"orient": "top", "values": [5000,10000,15000,20000,25000,30000], "zindex": 1,
    "offset": -10, "ticks": true, "tickSize": 10, "domain": true, "domainOpacity": 0, "labels": false, "title": null}},
  "y": {"field": "b", "type": "quantitative", "scale": {"domain": [-0.0118, 0.025], "nice": false, "zero": false},
   "axis": {"orient": "left", "values": [-0.011,-0.01,-0.009,-0.008,-0.007,-0.006,-0.005,-0.004,-0.003,-0.002,-0.001,0,0.001,0.002,0.003,0.004,0.005,0.006,0.007,0.008,0.009,0.01,0.011,0.012,0.013,0.014,0.015,0.016,0.017,0.018,0.019,0.02,0.021,0.022,0.023,0.024], "zindex": 1,
    "offset": -5, "ticks": true, "tickSize": 5, "labels": false, "title": null, "domain": true, "domainOpacity": 0}},
  "color": {"datum": "Model Light Curve", "type": "nominal"}
 }
},
{
 "mark": {"type": "line", "strokeWidth": 1.2},
 "encoding": {
  "x": {"field": "t", "type": "quantitative",
   "axis": {"orient": "bottom", "values": [1000,2000,3000,4000,5000,6000,7000,8000,9000,10000,11000,12000,13000,14000,15000,16000,17000,18000,19000,20000,21000,22000,23000,24000,25000,26000,27000,28000,29000,30000], "zindex": 1,
    "offset": -5, "ticks": true, "tickSize": 5, "labels": false, "title": null, "domain": true, "domainOpacity": 0}},
  "y": {"field": "c", "type": "quantitative", "scale": {"domain": [-0.118, 0.25], "nice": false, "zero": false},
   "axis": {"orient": "right", "values": [-0.1, 0, 0.1, 0.2], "zindex": 1,
    "offset": -10, "ticks": true, "tickSize": 10, "domain": true, "domainOpacity": 0, "labelPadding": 6, "labelFontSize": 17,
    "labelExpr": "replace(format(datum.value,'.1~f'),'\u2212','-')",
    "title": "Centroid Motion (pix)", "titleFontSize": 17, "titleAngle": 90, "titleX": 58, "titleY": 213, "titleAlign": "center", "titleBaseline": "middle"}},
  "color": {"datum": "Centroid Difference Curve", "type": "nominal"}
 }
},
{
 "mark": {"type": "line", "strokeOpacity": 0},
 "encoding": {
  "x": {"field": "t", "type": "quantitative",
   "axis": {"orient": "top", "values": [1000,2000,3000,4000,5000,6000,7000,8000,9000,10000,11000,12000,13000,14000,15000,16000,17000,18000,19000,20000,21000,22000,23000,24000,25000,26000,27000,28000,29000,30000], "zindex": 1,
    "offset": -5, "ticks": true, "tickSize": 5, "labels": false, "title": null, "domain": true, "domainOpacity": 0}},
  "y": {"field": "c", "type": "quantitative", "scale": {"domain": [-0.118, 0.25], "nice": false, "zero": false},
   "axis": {"orient": "right", "values": [-0.11,-0.1,-0.09,-0.08,-0.07,-0.06,-0.05,-0.04,-0.03,-0.02,-0.01,0,0.01,0.02,0.03,0.04,0.05,0.06,0.07,0.08,0.09,0.1,0.11,0.12,0.13,0.14,0.15,0.16,0.17,0.18,0.19,0.2,0.21,0.22,0.23,0.24], "zindex": 1,
    "offset": -5, "ticks": true, "tickSize": 5, "labels": false, "title": null, "domain": true, "domainOpacity": 0}}
 }
}
],
"resolve": {"scale": {"y": "independent"}, "axis": {"x": "independent", "y": "independent"}},
"config": {
 "view": {"stroke": "#000000", "strokeWidth": 1},
 "font": "Liberation Sans",
 "axis": {"grid": false, "domainColor": "#000000", "domainWidth": 1, "tickColor": "#000000", "tickWidth": 1, "tickOpacity": 1, "labelColor": "#000000", "titleColor": "#000000", "labelFont": "Liberation Sans", "titleFont": "Liberation Sans", "titleFontWeight": "normal", "labelOverlap": false, "labelFlush": false, "labelBound": false},
 "legend": {"labelFont": "Liberation Sans", "labelColor": "#000000"}
}
}
